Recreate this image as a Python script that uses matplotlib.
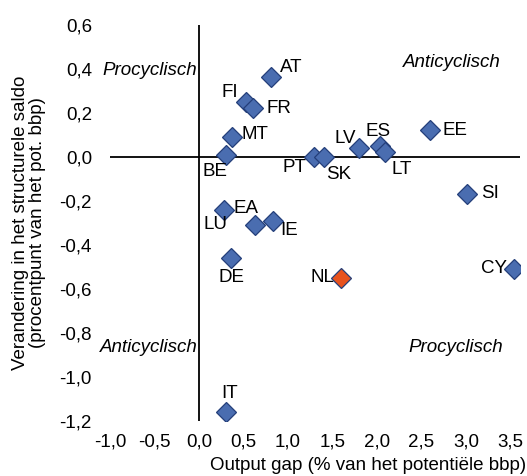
import numpy as np
import matplotlib
matplotlib.use("Agg")
import matplotlib.pyplot as plt
from matplotlib.ticker import FuncFormatter

plt.rcParams['font.family'] = ['Liberation Sans', 'DejaVu Sans']

countries = ['AT', 'FI', 'FR', 'MT', 'BE', 'PT', 'SK', 'LV', 'ES', 'LT',
             'EE', 'SI', 'CY', 'LU', 'EA', 'IE', 'DE', 'NL', 'IT']
output_gap = [0.81, 0.53, 0.61, 0.37, 0.30, 1.29, 1.40, 1.80, 2.03, 2.09,
              2.59, 3.01, 3.54, 0.28, 0.63, 0.83, 0.36, 1.59, 0.30]
delta_saldo = [0.36, 0.25, 0.22, 0.09, 0.01, 0.00, 0.00, 0.04, 0.05, 0.02,
               0.12, -0.17, -0.51, -0.24, -0.31, -0.29, -0.46, -0.55, -1.16]
highlight = 'NL'

# label offsets in pixels (dx right, dy down) from the marker centre
label_offsets = {
    'AT': (20, -10), 'FI': (-16, -9), 'FR': (26, 0), 'MT': (23, -2),
    'BE': (-11, 17), 'PT': (-19, 11), 'SK': (15, 18), 'LV': (-14, -9),
    'ES': (-2, -14), 'LT': (17, 17), 'EE': (25, 0), 'SI': (23, -1),
    'CY': (-20, 0), 'LU': (-8, 15), 'EA': (-9, -16), 'IE': (16, 10),
    'DE': (0, 20), 'NL': (-18, 0), 'IT': (4, -18),
}

W, H = 527, 476
fig = plt.figure(figsize=(W / 100, H / 100), dpi=100)
x0, x1, ytop, ybot = 110, 520, 24.7, 420.7
ax = fig.add_axes([x0 / W, 1 - ybot / H, (x1 - x0) / W, (ybot - ytop) / H])

ax.set_xlim(-1.0, -1.0 + (x1 - x0) / 89.0)
ax.set_ylim(-1.2, 0.6)

for s in ax.spines.values():
    s.set_visible(False)
ax.axhline(0, color='black', lw=1.3, zorder=1)
ax.axvline(0, color='black', lw=1.3, zorder=1)

fs = 13.5
blue, orange, edge = '#4A6DB0', '#E8531E', '#243F7A'
for c, gx, dy in zip(countries, output_gap, delta_saldo):
    fc = orange if c == highlight else blue
    ax.plot(gx, dy, marker='D', ms=10, mfc=fc, mec=edge, mew=0.9,
            ls='none', zorder=3)
    ox, oy = label_offsets[c]
    ax.annotate(c, (gx, dy), xytext=(ox * 0.72, -oy * 0.72),
                textcoords='offset points', ha='center', va='center',
                fontsize=fs, zorder=4)


def comma_fmt(v, pos):
    v = round(v, 1) + 0.0
    return f"{v:.1f}".replace('.', ',')


ax.set_xticks(np.round(np.arange(-1.0, 3.51, 0.5), 1))
ax.set_yticks(np.round(np.arange(-1.2, 0.61, 0.2), 1))
ax.xaxis.set_major_formatter(FuncFormatter(comma_fmt))
ax.yaxis.set_major_formatter(FuncFormatter(comma_fmt))
ax.tick_params(axis='both', length=0, labelsize=fs)
ax.tick_params(axis='y', pad=13)
ax.tick_params(axis='x', pad=9)

ax.set_ylabel('Verandering in het structurele saldo\n(procentpunt van het pot. bbp)',
              fontsize=fs, linespacing=1.0, va='center')
ax.yaxis.set_label_coords(-(x0 - 29) / (x1 - x0), 0.5)
ax.set_xlabel('Output gap (% van het potentiële bbp)', fontsize=fs, ha='left',
              va='center')
ax.xaxis.set_label_coords((210 - x0) / (x1 - x0), -(466 - ybot) / (ybot - ytop))

kw = dict(fontsize=fs, style='italic', va='center')
ax.text(-0.02, 0.394, 'Procyclisch', ha='right', **kw)
ax.text(2.84, 0.43, 'Anticyclisch', ha='center', **kw)
ax.text(-0.02, -0.865, 'Anticyclisch', ha='right', **kw)
ax.text(2.89, -0.865, 'Procyclisch', ha='center', **kw)

fig.savefig('out.png', dpi=100)
